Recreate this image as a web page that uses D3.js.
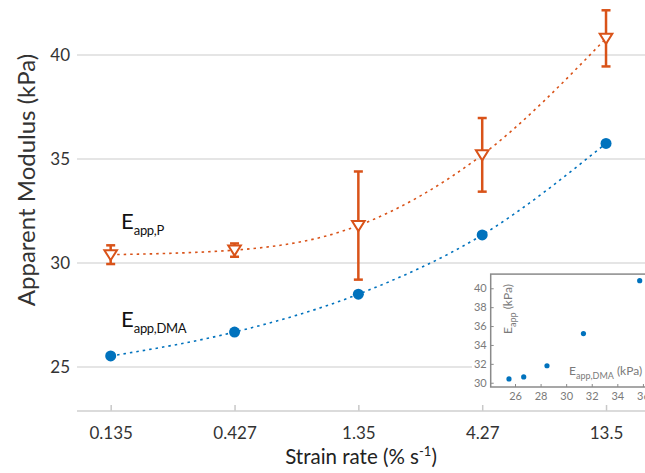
<!DOCTYPE html>
<html><head><meta charset="utf-8">
<script src="https://cdn.jsdelivr.net/npm/d3@7"></script>
<style>
body{margin:0;background:#fff}
svg{display:block;font-family:Lato,"Open Sans",sans-serif}
</style></head>
<body><svg id="c" width="645" height="473"></svg>
<script>
// ---- data ----
const strainRates = [0.135, 0.427, 1.35, 4.27, 13.5];
const xTickLabels = ["0.135", "0.427", "1.35", "4.27", "13.5"];
const eDMA = [25.53, 26.68, 28.5, 31.35, 35.75];
const eP = [30.4, 30.62, 31.8, 35.2, 40.8];
const ePErr = [0.45, 0.32, 2.6, 1.77, 1.35];
const yTicks = [25, 30, 35, 40];
const insetXTicks = [26, 28, 30, 32, 34, 36];
const insetYTicks = [30, 32, 34, 36, 38, 40];

const ORANGE = "#D95319", BLUE = "#0072BD";
const svg = d3.select("#c");

const x = d3.scaleLog().domain([0.1, 20]).range([78.4, 648.3]);
const y = d3.scaleLinear().domain([25, 40]).range([367, 55]);
const plotLeft = 77, plotRight = 645, axisY = 411;

// gridlines
svg.append("g").selectAll("line").data(yTicks).join("line")
  .attr("x1", plotLeft).attr("x2", plotRight)
  .attr("y1", d => y(d)).attr("y2", d => y(d))
  .attr("stroke", "#dcdcdc").attr("stroke-width", 1.6);

// y tick labels
svg.append("g").selectAll("text").data(yTicks).join("text")
  .attr("x", 70).attr("y", d => y(d)).attr("dy", "0.36em")
  .attr("text-anchor", "end").attr("font-size", 17).attr("fill", "#333")
  .text(d => d);

// x axis
const xAxis = d3.axisBottom(x).tickValues(strainRates)
  .tickFormat((d, i) => xTickLabels[i]).tickSize(-6).tickPadding(16);
const gx = svg.append("g").attr("transform", `translate(0,${axisY})`).call(xAxis);
gx.select(".domain").remove();
gx.selectAll(".tick line").attr("stroke", "#c8c8c8").attr("stroke-width", 1.5);
gx.selectAll(".tick text").attr("font-size", 17).attr("fill", "#333")
  .attr("font-family", "Lato,'Open Sans',sans-serif");
svg.append("line").attr("x1", plotLeft).attr("x2", plotRight)
  .attr("y1", axisY).attr("y2", axisY).attr("stroke", "#cfcfcf").attr("stroke-width", 1.6);

// axis labels
svg.append("text").attr("transform", "translate(35,180) rotate(-90)")
  .attr("text-anchor", "middle").attr("font-size", 24).attr("fill", "#333")
  .text("Apparent Modulus (kPa)");
const xl = svg.append("text").attr("x", 361).attr("y", 464)
  .attr("text-anchor", "middle").attr("font-size", 20.5).attr("fill", "#222");
xl.append("tspan").text("Strain rate (% s");
xl.append("tspan").attr("dy", -8).attr("font-size", 13).text("-1");
xl.append("tspan").attr("dy", 8).text(")");

// lines
const line = d3.line().curve(d3.curveMonotoneX);
const ptsDMA = strainRates.map((s, i) => [x(s), y(eDMA[i])]);
const ptsP = strainRates.map((s, i) => [x(s), y(eP[i])]);
svg.append("path").attr("d", line(ptsP)).attr("fill", "none")
  .attr("stroke", ORANGE).attr("stroke-width", 1.6).attr("stroke-dasharray", "2.5 4");
svg.append("path").attr("d", line(ptsDMA)).attr("fill", "none")
  .attr("stroke", BLUE).attr("stroke-width", 1.6).attr("stroke-dasharray", "2.5 4");

// error bars
const eb = svg.append("g").attr("stroke", ORANGE).attr("stroke-width", 2.5);
strainRates.forEach((s, i) => {
  const cx = x(s), y1 = y(eP[i] + ePErr[i]), y2 = y(eP[i] - ePErr[i]);
  eb.append("line").attr("x1", cx).attr("x2", cx).attr("y1", y1).attr("y2", y2);
  eb.append("line").attr("x1", cx - 4.5).attr("x2", cx + 4.5).attr("y1", y1).attr("y2", y1);
  eb.append("line").attr("x1", cx - 4.5).attr("x2", cx + 4.5).attr("y1", y2).attr("y2", y2);
});
// triangle markers
svg.append("g").selectAll("path").data(ptsP).join("path")
  .attr("d", d => `M${d[0]-6.3},${d[1]-4.5}L${d[0]+6.3},${d[1]-4.5}L${d[0]},${d[1]+5.5}Z`)
  .attr("fill", "#fff").attr("stroke", ORANGE).attr("stroke-width", 2).attr("stroke-linejoin", "miter");
// dots
svg.append("g").selectAll("circle").data(ptsDMA).join("circle")
  .attr("cx", d => d[0]).attr("cy", d => d[1]).attr("r", 5.5).attr("fill", BLUE);

// annotations
function subLabel(g, xp, yp, main, sub, fs, sfs, color) {
  const t = g.append("text").attr("x", xp).attr("y", yp).attr("font-size", fs).attr("fill", color);
  t.append("tspan").text(main);
  t.append("tspan").attr("dy", fs * 0.28).attr("font-size", sfs).attr("letter-spacing", -0.3).text(sub);
  return t;
}
subLabel(svg, 121, 229, "E", "app,P", 22, 13, "#111");
subLabel(svg, 121, 327, "E", "app,DMA", 22, 13, "#111");

// ---- inset ----
const ix = d3.scaleLinear().domain([24.1, 37]).range([490.7, 655.7]);
const iy = d3.scaleLinear().domain([29.55, 41.5]).range([387, 274.1]);
const inset = svg.append("g");
inset.append("rect").attr("x", 472).attr("y", 268).attr("width", 180).attr("height", 134).attr("fill", "#fff");
inset.append("rect").attr("x", ix.range()[0]).attr("y", iy.range()[1])
  .attr("width", ix.range()[1] - ix.range()[0]).attr("height", iy.range()[0] - iy.range()[1])
  .attr("fill", "#fff").attr("stroke", "#8a8a8a").attr("stroke-width", 1.5);
const igx = inset.append("g").attr("transform", `translate(0,${iy.range()[0]})`)
  .call(d3.axisBottom(ix).tickValues(insetXTicks).tickSize(-3).tickPadding(5));
const igy = inset.append("g").attr("transform", `translate(${ix.range()[0]},0)`)
  .call(d3.axisLeft(iy).tickValues(insetYTicks).tickSize(-3).tickPadding(4));
[igx, igy].forEach(g => {
  g.select(".domain").remove();
  g.selectAll(".tick line").attr("stroke", "#8a8a8a");
  g.selectAll(".tick text").attr("font-size", 11).attr("fill", "#7a7a7a")
    .attr("font-family", "Lato,'Open Sans',sans-serif");
});
inset.append("g").selectAll("circle").data(eDMA).join("circle")
  .attr("cx", d => ix(d)).attr("cy", (d, i) => iy(eP[i])).attr("r", 2.6).attr("fill", BLUE);
const il = inset.append("text").attr("transform", "translate(512,309) rotate(-90)")
  .attr("text-anchor", "middle").attr("font-size", 12).attr("fill", "#7a7a7a");
il.append("tspan").text("E");
il.append("tspan").attr("dy", 3.5).attr("font-size", 9).text("app");
il.append("tspan").attr("dy", -3.5).text(" (kPa)");
const il2 = inset.append("text").attr("x", 569).attr("y", 375).attr("font-size", 12).attr("fill", "#7a7a7a");
il2.append("tspan").text("E");
il2.append("tspan").attr("dy", 3.5).attr("font-size", 9).text("app,DMA");
il2.append("tspan").attr("dy", -3.5).text(" (kPa)");
</script></body></html>
